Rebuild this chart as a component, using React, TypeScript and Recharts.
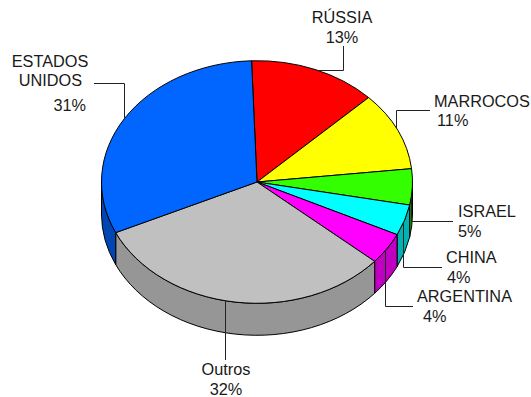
import { PieChart, Pie, Cell } from "recharts";

const categories = ["RÚSSIA", "MARROCOS", "ISRAEL", "CHINA", "ARGENTINA", "Outros", "ESTADOS UNIDOS"];
// the labels show them rounded
const shares = [13.3, 10.5, 4.8, 4.1, 4.2, 31.8, 31.3];
const topColors = ["#ff0000", "#ffff00", "#33ff00", "#00ffff", "#ff00ff", "#c0c0c0", "#0066ff"];
const wallColors = ["#b30000", "#b3b300", "#24b300", "#00b3b3", "#c000c0", "#969696", "#0047b3"];

const data = categories.map((name, i) => ({ name, value: shares[i] }));

// pie is squashed to look tilted
const TILT = 0.78;
const DEPTH = 32;
const FONT = "'Liberation Sans', Arial, sans-serif";

// leader elbows and text spots, per slice
const labelSpots: Record<string, { path: number[][]; text: [number, number, string][]; pct: [number, number, string] }> = {
  "RÚSSIA": {
    path: [[343.5, 70.5], [343.5, 46]],
    text: [[342, 23, "middle"]],
    pct: [342, 43, "middle"],
  },
  MARROCOS: {
    path: [[396.5, 110.5], [430, 110.5]],
    text: [[434, 107, "start"]],
    pct: [437, 126, "start"],
  },
  ISRAEL: {
    path: [[411.5, 221.5], [453, 221.5]],
    text: [[458, 217, "start"]],
    pct: [458, 237, "start"],
  },
  CHINA: {
    path: [[403.5, 267.5], [442, 267.5]],
    text: [[446, 263, "start"]],
    pct: [447, 283, "start"],
  },
  ARGENTINA: {
    path: [[385.5, 306.5], [413, 306.5]],
    text: [[417, 302, "start"]],
    pct: [423, 322, "start"],
  },
  Outros: {
    path: [[225.5, 360]],
    text: [[226, 375, "middle"]],
    pct: [226, 395, "middle"],
  },
  "ESTADOS UNIDOS": {
    path: [[124.5, 83.5], [94, 83.5]],
    text: [[50, 67, "middle"], [50.5, 86, "middle"]],
    pct: [86, 111, "end"],
  },
};

const pointAt = (cx: number, cy: number, r: number, deg: number) => {
  const rad = (deg * Math.PI) / 180;
  return [cx + r * Math.cos(rad), cy - r * TILT * Math.sin(rad)];
};

function Slice(props: any) {
  const { cx, cy, outerRadius: r, startAngle, endAngle, fill, index } = props;
  const ry = r * TILT;
  const [x1, y1] = pointAt(cx, cy, r, startAngle);
  const [x2, y2] = pointAt(cx, cy, r, endAngle);
  const large = Math.abs(startAngle - endAngle) > 180 ? 1 : 0;
  const hi = Math.min(startAngle, 0);
  const lo = Math.max(endAngle, -180);
  let wall = null;
  if (hi > lo) {
    const [wx1, wy1] = pointAt(cx, cy, r, hi);
    const [wx2, wy2] = pointAt(cx, cy, r, lo);
    wall = (
      <path
        d={`M${wx1},${wy1} A${r},${ry} 0 0 1 ${wx2},${wy2} L${wx2},${wy2 + DEPTH} A${r},${ry} 0 0 0 ${wx1},${wy1 + DEPTH} Z`}
        fill={wallColors[index ?? categories.indexOf(props.name)]}
        stroke="#000"
        strokeWidth={1}
      />
    );
  }
  return (
    <g>
      {wall}
      <path
        d={`M${cx},${cy} L${x1},${y1} A${r},${ry} 0 ${large} 1 ${x2},${y2} Z`}
        fill={fill}
        stroke="#000"
        strokeWidth={1}
      />
    </g>
  );
}

function SliceLabel(props: any) {
  const { cx, cy, outerRadius: r, midAngle, name, value } = props;
  const spot = labelSpots[name];
  const ry = r * TILT;
  const rad = (midAngle * Math.PI) / 180;
  const [px, py] = spot.path[0];
  // leader leaves the rim straight towards its first elbow
  const upright = Math.abs(px - (cx + r * Math.cos(rad))) < Math.abs(py - (cy - ry * Math.sin(rad)));
  const start = upright
    ? [px, cy - Math.sign(Math.sin(rad)) * ry * Math.sqrt(Math.max(0, 1 - ((px - cx) / r) ** 2))]
    : [cx + Math.sign(Math.cos(rad)) * r * Math.sqrt(Math.max(0, 1 - ((py - cy) / ry) ** 2)), py];
  const pts = [start, ...spot.path].map((p) => p.join(",")).join(" ");
  const lines = name === "ESTADOS UNIDOS" ? name.split(" ") : [name];
  const textProps = { fontFamily: FONT, fontSize: 16.3, fill: "#1a1a1a" };
  return (
    <g>
      <polyline points={pts} fill="none" stroke="#222" strokeWidth={1} />
      {lines.map((t: string, i: number) => (
        <text key={t} x={spot.text[i][0]} y={spot.text[i][1]} textAnchor={spot.text[i][2] as any} {...textProps}>
          {t}
        </text>
      ))}
      <text x={spot.pct[0]} y={spot.pct[1]} textAnchor={spot.pct[2] as any} {...textProps}>
        {Math.round(value)}%
      </text>
    </g>
  );
}

export default function App() {
  return (
    <div style={{ position: "absolute", left: 0, top: 0, width: 531, height: 397, background: "#fff" }}>
      <PieChart width={531} height={397} margin={{ top: 0, right: 0, bottom: 0, left: 0 }}>
        <Pie
          data={data}
          dataKey="value"
          nameKey="name"
          cx={257}
          cy={182}
          outerRadius={155.5}
          startAngle={92}
          endAngle={-268}
          isAnimationActive={false}
          shape={Slice}
          label={SliceLabel}
          labelLine={false}
        >
          {data.map((d, i) => (
            <Cell key={d.name} fill={topColors[i]} />
          ))}
        </Pie>
      </PieChart>
    </div>
  );
}
